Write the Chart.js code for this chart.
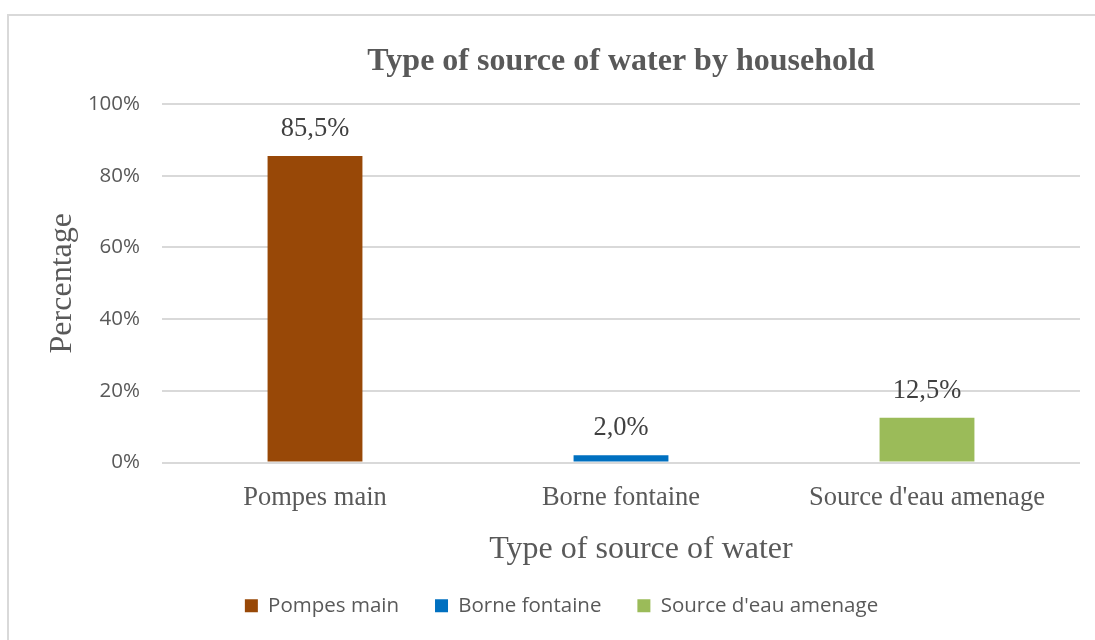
<!DOCTYPE html>
<html>
<head>
<meta charset="utf-8">
<script src="https://cdn.jsdelivr.net/npm/chart.js@4/dist/chart.umd.min.js"></script>
<style>
  html, body { margin: 0; padding: 0; background: #ffffff; }
  #wrap { position: relative; width: 1095px; height: 640px; }
</style>
</head>
<body>
<div id="wrap"><canvas id="chart" width="1095" height="640"></canvas></div>
<script>
// Household water sources (share of households, %)
const categories = ["Pompes main", "Borne fontaine", "Source d'eau amenage"];
const shares = [85.5, 2.0, 12.5];
const barColors = ["#984807", "#0070C0", "#9BBB59"];
const yTicks = [0, 20, 40, 60, 80, 100];

const chartTitle = "Type of source of water by household";
const xAxisTitle = "Type of source of water";
const yAxisTitle = "Percentage";

const textGray = "#595959";
const serif = "'Liberation Serif', 'Times New Roman', serif";
const sans = "'Open Sans', 'Liberation Sans', Arial, sans-serif";

// Light frame along the top and left edges
const framePlugin = {
  id: 'frame',
  beforeDraw(chart) {
    const ctx = chart.ctx;
    ctx.save();
    ctx.strokeStyle = '#d9d9d9';
    ctx.lineWidth = 2;
    ctx.beginPath();
    ctx.moveTo(8, 640);
    ctx.lineTo(8, 15);
    ctx.lineTo(1095, 15);
    ctx.stroke();
    ctx.restore();
  }
};

// Value labels above each bar, formatted with a decimal comma
const valueLabels = {
  id: 'valueLabels',
  afterDatasetsDraw(chart) {
    const ctx = chart.ctx;
    const meta = chart.getDatasetMeta(0);
    ctx.save();
    ctx.font = "26.5px " + serif;
    ctx.fillStyle = "#404040";
    ctx.textAlign = 'center';
    ctx.textBaseline = 'alphabetic';
    meta.data.forEach((bar, i) => {
      const v = chart.data.datasets[0].data[i];
      ctx.fillText(v.toFixed(1).replace('.', ',') + '%', bar.x, bar.y - 20);
    });
    ctx.restore();
  }
};

// Horizontal axis title, placed under the category labels
const xTitlePlugin = {
  id: 'xTitle',
  afterDraw(chart) {
    const ctx = chart.ctx;
    const a = chart.chartArea;
    ctx.save();
    ctx.font = "32px " + serif;
    ctx.fillStyle = textGray;
    ctx.textAlign = 'center';
    ctx.textBaseline = 'middle';
    ctx.fillText(xAxisTitle, (a.left + a.right) / 2 + 20, a.bottom + 87);
    ctx.restore();
  }
};

new Chart(document.getElementById('chart'), {
  type: 'bar',
  data: {
    labels: categories,
    datasets: [{
      label: xAxisTitle,
      data: shares,
      backgroundColor: barColors,
      borderWidth: 0,
      categoryPercentage: 1.0,
      barPercentage: 0.31
    }]
  },
  options: {
    responsive: false,
    animation: false,
    events: [],
    layout: { padding: { left: 43, right: 15, top: 0, bottom: 14 } },
    scales: {
      x: {
        grid: { display: false, drawTicks: false },
        border: { display: false },
        ticks: {
          color: textGray,
          font: { family: serif, size: 26.5 },
          padding: 20,
          maxRotation: 0
        },
        afterFit(scale) { scale.height = 97; }
      },
      y: {
        min: 0,
        max: 100,
        afterBuildTicks(scale) {
          scale.ticks = yTicks.map(v => ({ value: v }));
        },
        grid: { color: '#d9d9d9', lineWidth: 2, drawTicks: false },
        border: { display: false },
        ticks: {
          color: textGray,
          font: { family: sans, size: 20.5 },
          padding: 22,
          callback: v => v + '%'
        },
        title: {
          display: true,
          text: yAxisTitle,
          color: textGray,
          font: { family: serif, size: 32 },
          padding: { top: 0, bottom: 0 }
        },
        afterFit(scale) { scale.width = 119; }
      }
    },
    plugins: {
      title: {
        display: true,
        fullSize: false,
        text: chartTitle,
        color: textGray,
        font: { family: serif, size: 32, weight: 'bold' },
        padding: { top: 43, bottom: 22.6 }
      },
      legend: {
        position: 'bottom',
        labels: {
          color: textGray,
          font: { family: sans, size: 20.5 },
          boxWidth: 13,
          boxHeight: 13,
          padding: 36,
          generateLabels(chart) {
            return categories.map((c, i) => ({
              text: c,
              fillStyle: barColors[i],
              strokeStyle: barColors[i],
              lineWidth: 0,
              fontColor: textGray,
              index: i
            }));
          }
        }
      },
      tooltip: { enabled: false }
    }
  },
  plugins: [framePlugin, valueLabels, xTitlePlugin]
});
</script>
</body>
</html>
